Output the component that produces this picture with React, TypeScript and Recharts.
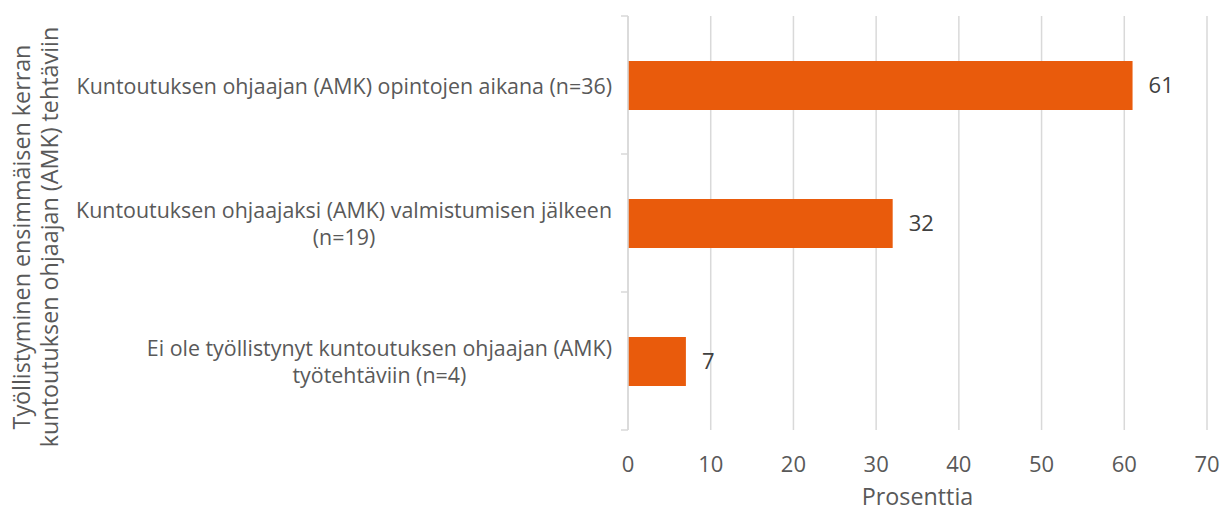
import React from 'react';
import { BarChart, Bar, XAxis, YAxis, CartesianGrid, LabelList } from 'recharts';

const categories = [
    'Kuntoutuksen ohjaajan (AMK) opintojen aikana (n=36)',
    'Kuntoutuksen ohjaajaksi (AMK) valmistumisen jälkeen|(n=19)',
    'Ei ole työllistynyt kuntoutuksen ohjaajan (AMK)|työtehtäviin (n=4)',
];
const percents = [61, 32, 7];
const xTicks = [0, 10, 20, 30, 40, 50, 60, 70];
const xTitle = 'Prosenttia';
const yTitle = ['Työllistyminen ensimmäisen kerran', 'kuntoutuksen ohjaajan (AMK) tehtäviin'];

const data = categories.map((c, i) => ({ name: c, value: percents[i] }));

const FONT = '"Open Sans", sans-serif';
const TEXT = '#595959';
const GRID = '#d9d9d9';
const BAR = '#E95B0C';
const CAT_FS = 21.4;
const NUM_FS = 22;
const TITLE_FS = 23.3;

let ctx: CanvasRenderingContext2D | null = null;
const measure = (s: string) => {
    if (!ctx) ctx = document.createElement('canvas').getContext('2d');
    if (!ctx) return s.length * CAT_FS * 0.55;
    ctx.font = `${CAT_FS}px ${FONT}`;
    return ctx.measureText(s).width;
};

const CategoryTick = (props: any) => {
    const { x, y, payload } = props;
    const axisX = x + 8; // recharts shifts tick x by tickSize + tickMargin
    const lines: string[] = String(payload.value).split('|');
    const w = Math.max(...lines.map(measure));
    const cx = axisX - 16 - w / 2;
    const lh = 27.5;
    const half = payload.offset || 69;
    const top = y - ((lines.length - 1) * lh) / 2;
    const isLast = payload.index === categories.length - 1;
    return (
        <g>
            <line x1={axisX - 7} x2={axisX} y1={y - half} y2={y - half} stroke={GRID} strokeWidth={1.5} />
            {isLast && <line x1={axisX - 7} x2={axisX} y1={y + half} y2={y + half} stroke={GRID} strokeWidth={1.5} />}
            {lines.map((l, i) => (
                <text key={i} x={cx} y={top + i * lh} textAnchor="middle" dominantBaseline="central"
                    fill={TEXT} fontSize={CAT_FS} fontFamily={FONT}>{l}</text>
            ))}
        </g>
    );
};

const YTitle = () => (
    <g>
        {yTitle.map((l, i) => (
            <text key={i} x={0} y={0} transform={`translate(${21 + i * 28}, 237) rotate(-90)`}
                textAnchor="middle" dominantBaseline="central" fill={TEXT} fontSize={TITLE_FS} fontFamily={FONT}>{l}</text>
        ))}
    </g>
);

export default function App() {
    return (
        <div style={{ position: 'absolute', left: 0, top: 0, width: 1229, height: 511, background: '#fff' }}>
            <BarChart width={1229} height={511} data={data} layout="vertical"
                margin={{ top: 16, right: 22, bottom: 0, left: 0 }} barSize={49}>
                <CartesianGrid horizontal={false} vertical stroke={GRID} strokeWidth={1.5} />
                <XAxis type="number" domain={[0, 70]} ticks={xTicks} interval={0}
                    axisLine={false} tickLine={false} tickMargin={20} height={81}
                    tick={{ fill: TEXT, fontSize: NUM_FS, fontFamily: FONT }}
                    label={{ value: xTitle, position: 'insideBottom', offset: 6, fill: TEXT, fontSize: TITLE_FS, fontFamily: FONT }} />
                <YAxis type="category" dataKey="name" width={628} axisLine={{ stroke: GRID, strokeWidth: 1.5 }}
                    tickLine={false} tick={<CategoryTick />} interval={0}
                    label={<YTitle />} />
                <Bar dataKey="value" fill={BAR} isAnimationActive={false}>
                    <LabelList dataKey="value" position="right" offset={16}
                        fill="#404040" fontSize={NUM_FS} fontFamily={FONT} />
                </Bar>
            </BarChart>
        </div>
    );
}
